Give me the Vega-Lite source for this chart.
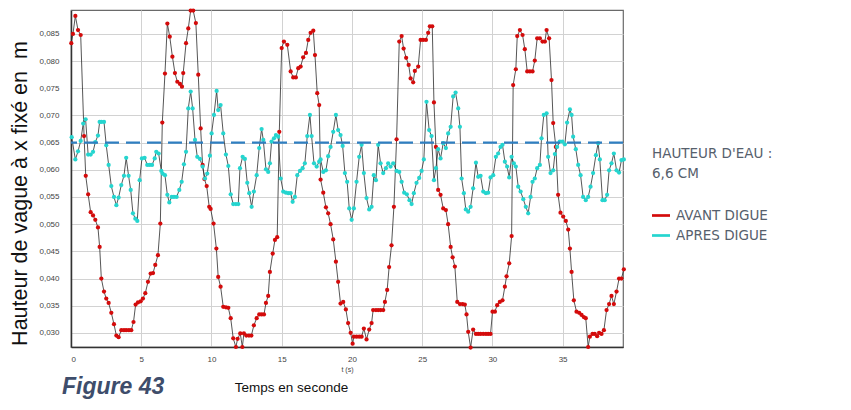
{
"$schema": "https://vega.github.io/schema/vega-lite/v6.json",
"width": 552, "height": 337,
"autosize": {"type": "none"},
"padding": {"left": 71, "top": 10, "right": 228, "bottom": 63},
"background": "white",
"config": {"view": {"stroke": "#6a6a6a", "strokeWidth": 1.2}, "font": "Liberation Sans"},
"datasets": {
"avant": [{"t":0.02,"v":0.0833},{"t":0.14,"v":0.0850},{"t":0.31,"v":0.0883},{"t":0.50,"v":0.0857},{"t":0.69,"v":0.0848},{"t":0.93,"v":0.0662},{"t":1.05,"v":0.0589},{"t":1.22,"v":0.0555},{"t":1.40,"v":0.0522},{"t":1.57,"v":0.0516},{"t":1.73,"v":0.0508},{"t":1.92,"v":0.0494},{"t":2.04,"v":0.0458},{"t":2.16,"v":0.0400},{"t":2.35,"v":0.0376},{"t":2.51,"v":0.0363},{"t":2.68,"v":0.0355},{"t":2.87,"v":0.0337},{"t":3.06,"v":0.0316},{"t":3.23,"v":0.0295},{"t":3.39,"v":0.0292},{"t":3.58,"v":0.0305},{"t":3.77,"v":0.0305},{"t":3.93,"v":0.0305},{"t":4.12,"v":0.0305},{"t":4.29,"v":0.0305},{"t":4.45,"v":0.0320},{"t":4.60,"v":0.0352},{"t":4.77,"v":0.0356},{"t":4.96,"v":0.0358},{"t":5.12,"v":0.0363},{"t":5.29,"v":0.0373},{"t":5.48,"v":0.0394},{"t":5.67,"v":0.0409},{"t":5.84,"v":0.0410},{"t":6.00,"v":0.0425},{"t":6.19,"v":0.0443},{"t":6.36,"v":0.0501},{"t":6.50,"v":0.0687},{"t":6.69,"v":0.0777},{"t":6.86,"v":0.0869},{"t":7.03,"v":0.0845},{"t":7.22,"v":0.0808},{"t":7.40,"v":0.0778},{"t":7.57,"v":0.0762},{"t":7.76,"v":0.0758},{"t":7.90,"v":0.0753},{"t":7.99,"v":0.0778},{"t":8.19,"v":0.0833},{"t":8.35,"v":0.0860},{"t":8.52,"v":0.0893},{"t":8.70,"v":0.0893},{"t":8.89,"v":0.0870},{"t":9.06,"v":0.0775},{"t":9.23,"v":0.0676},{"t":9.37,"v":0.0609},{"t":9.50,"v":0.0583},{"t":9.66,"v":0.0570},{"t":9.84,"v":0.0532},{"t":9.94,"v":0.0528},{"t":10.15,"v":0.0501},{"t":10.35,"v":0.0455},{"t":10.48,"v":0.0403},{"t":10.65,"v":0.0385},{"t":10.84,"v":0.0348},{"t":11.03,"v":0.0347},{"t":11.20,"v":0.0346},{"t":11.37,"v":0.0327},{"t":11.55,"v":0.0290},{"t":11.74,"v":0.0274},{"t":11.86,"v":0.0289},{"t":12.05,"v":0.0299},{"t":12.20,"v":0.0274},{"t":12.31,"v":0.0299},{"t":12.48,"v":0.0295},{"t":12.67,"v":0.0295},{"t":12.84,"v":0.0295},{"t":13.02,"v":0.0314},{"t":13.22,"v":0.0327},{"t":13.40,"v":0.0334},{"t":13.57,"v":0.0334},{"t":13.74,"v":0.0334},{"t":13.88,"v":0.0355},{"t":14.04,"v":0.0368},{"t":14.16,"v":0.0412},{"t":14.36,"v":0.0446},{"t":14.52,"v":0.0471},{"t":14.68,"v":0.0476},{"t":14.83,"v":0.0670},{"t":15.00,"v":0.0824},{"t":15.16,"v":0.0836},{"t":15.40,"v":0.0830},{"t":15.64,"v":0.0781},{"t":15.82,"v":0.0770},{"t":16.01,"v":0.0770},{"t":16.18,"v":0.0787},{"t":16.35,"v":0.0790},{"t":16.53,"v":0.0807},{"t":16.73,"v":0.0815},{"t":16.89,"v":0.0839},{"t":17.06,"v":0.0852},{"t":17.25,"v":0.0856},{"t":17.37,"v":0.0811},{"t":17.53,"v":0.0741},{"t":17.67,"v":0.0719},{"t":17.77,"v":0.0582},{"t":17.96,"v":0.0558},{"t":18.15,"v":0.0531},{"t":18.31,"v":0.0520},{"t":18.48,"v":0.0500},{"t":18.67,"v":0.0472},{"t":18.86,"v":0.0431},{"t":19.02,"v":0.0394},{"t":19.19,"v":0.0354},{"t":19.38,"v":0.0357},{"t":19.57,"v":0.0343},{"t":19.73,"v":0.0318},{"t":19.91,"v":0.0300},{"t":20.05,"v":0.0280},{"t":20.14,"v":0.0293},{"t":20.33,"v":0.0293},{"t":20.52,"v":0.0293},{"t":20.69,"v":0.0293},{"t":20.85,"v":0.0308},{"t":21.04,"v":0.0288},{"t":21.23,"v":0.0306},{"t":21.40,"v":0.0318},{"t":21.51,"v":0.0342},{"t":21.71,"v":0.0342},{"t":21.87,"v":0.0342},{"t":22.04,"v":0.0342},{"t":22.23,"v":0.0342},{"t":22.35,"v":0.0357},{"t":22.51,"v":0.0379},{"t":22.65,"v":0.0421},{"t":22.82,"v":0.0461},{"t":22.99,"v":0.0532},{"t":23.18,"v":0.0656},{"t":23.37,"v":0.0836},{"t":23.54,"v":0.0846},{"t":23.68,"v":0.0823},{"t":23.86,"v":0.0806},{"t":24.04,"v":0.0793},{"t":24.18,"v":0.0768},{"t":24.36,"v":0.0761},{"t":24.48,"v":0.0782},{"t":24.72,"v":0.0790},{"t":24.89,"v":0.0839},{"t":25.07,"v":0.0839},{"t":25.27,"v":0.0839},{"t":25.43,"v":0.0852},{"t":25.55,"v":0.0864},{"t":25.72,"v":0.0864},{"t":25.84,"v":0.0724},{"t":25.98,"v":0.0642},{"t":26.14,"v":0.0563},{"t":26.31,"v":0.0554},{"t":26.50,"v":0.0529},{"t":26.69,"v":0.0526},{"t":26.85,"v":0.0500},{"t":27.03,"v":0.0458},{"t":27.17,"v":0.0439},{"t":27.33,"v":0.0422},{"t":27.50,"v":0.0357},{"t":27.69,"v":0.0353},{"t":27.88,"v":0.0353},{"t":28.04,"v":0.0352},{"t":28.16,"v":0.0334},{"t":28.28,"v":0.0302},{"t":28.45,"v":0.0273},{"t":28.63,"v":0.0306},{"t":28.83,"v":0.0298},{"t":28.99,"v":0.0298},{"t":29.16,"v":0.0298},{"t":29.35,"v":0.0298},{"t":29.54,"v":0.0298},{"t":29.70,"v":0.0298},{"t":29.87,"v":0.0298},{"t":30.01,"v":0.0339},{"t":30.18,"v":0.0339},{"t":30.34,"v":0.0351},{"t":30.53,"v":0.0357},{"t":30.72,"v":0.0360},{"t":30.89,"v":0.0385},{"t":31.01,"v":0.0404},{"t":31.20,"v":0.0428},{"t":31.37,"v":0.0478},{"t":31.48,"v":0.0756},{"t":31.67,"v":0.0785},{"t":31.77,"v":0.0846},{"t":31.96,"v":0.0857},{"t":32.15,"v":0.0848},{"t":32.31,"v":0.0822},{"t":32.48,"v":0.0781},{"t":32.67,"v":0.0781},{"t":32.86,"v":0.0781},{"t":33.02,"v":0.0801},{"t":33.19,"v":0.0842},{"t":33.38,"v":0.0842},{"t":33.57,"v":0.0836},{"t":33.74,"v":0.0836},{"t":33.86,"v":0.0857},{"t":34.04,"v":0.0842},{"t":34.21,"v":0.0765},{"t":34.33,"v":0.0686},{"t":34.52,"v":0.0642},{"t":34.68,"v":0.0554},{"t":34.85,"v":0.0521},{"t":35.04,"v":0.0514},{"t":35.23,"v":0.0506},{"t":35.40,"v":0.0490},{"t":35.52,"v":0.0455},{"t":35.64,"v":0.0412},{"t":35.80,"v":0.0360},{"t":35.99,"v":0.0339},{"t":36.18,"v":0.0337},{"t":36.35,"v":0.0333},{"t":36.51,"v":0.0329},{"t":36.65,"v":0.0327},{"t":36.82,"v":0.0274},{"t":36.94,"v":0.0293},{"t":37.13,"v":0.0298},{"t":37.29,"v":0.0298},{"t":37.46,"v":0.0294},{"t":37.60,"v":0.0300},{"t":37.77,"v":0.0298},{"t":37.94,"v":0.0305},{"t":38.13,"v":0.0342},{"t":38.31,"v":0.0353},{"t":38.48,"v":0.0368},{"t":38.65,"v":0.0353},{"t":38.84,"v":0.0376},{"t":39.02,"v":0.0400},{"t":39.19,"v":0.0400},{"t":39.36,"v":0.0417}],
"apres": [{"t":0.05,"v":0.0660},{"t":0.31,"v":0.0619},{"t":0.50,"v":0.0634},{"t":0.69,"v":0.0653},{"t":0.87,"v":0.0685},{"t":1.04,"v":0.0693},{"t":1.22,"v":0.0628},{"t":1.40,"v":0.0628},{"t":1.57,"v":0.0633},{"t":1.73,"v":0.0651},{"t":1.92,"v":0.0663},{"t":2.04,"v":0.0688},{"t":2.16,"v":0.0688},{"t":2.35,"v":0.0688},{"t":2.51,"v":0.0645},{"t":2.68,"v":0.0609},{"t":2.87,"v":0.0570},{"t":3.06,"v":0.0550},{"t":3.23,"v":0.0535},{"t":3.39,"v":0.0549},{"t":3.58,"v":0.0572},{"t":3.77,"v":0.0589},{"t":3.93,"v":0.0622},{"t":4.10,"v":0.0589},{"t":4.25,"v":0.0563},{"t":4.41,"v":0.0520},{"t":4.58,"v":0.0510},{"t":4.72,"v":0.0506},{"t":4.89,"v":0.0581},{"t":5.05,"v":0.0621},{"t":5.24,"v":0.0622},{"t":5.43,"v":0.0609},{"t":5.60,"v":0.0609},{"t":5.77,"v":0.0609},{"t":5.96,"v":0.0621},{"t":6.07,"v":0.0633},{"t":6.24,"v":0.0630},{"t":6.43,"v":0.0598},{"t":6.52,"v":0.0593},{"t":6.69,"v":0.0590},{"t":6.86,"v":0.0554},{"t":7.00,"v":0.0540},{"t":7.17,"v":0.0550},{"t":7.33,"v":0.0550},{"t":7.52,"v":0.0550},{"t":7.71,"v":0.0563},{"t":7.88,"v":0.0578},{"t":8.04,"v":0.0610},{"t":8.19,"v":0.0633},{"t":8.35,"v":0.0713},{"t":8.52,"v":0.0744},{"t":8.66,"v":0.0713},{"t":8.83,"v":0.0655},{"t":8.99,"v":0.0624},{"t":9.18,"v":0.0620},{"t":9.37,"v":0.0606},{"t":9.54,"v":0.0584},{"t":9.70,"v":0.0593},{"t":9.89,"v":0.0626},{"t":10.01,"v":0.0667},{"t":10.18,"v":0.0701},{"t":10.37,"v":0.0745},{"t":10.48,"v":0.0710},{"t":10.65,"v":0.0719},{"t":10.84,"v":0.0667},{"t":11.03,"v":0.0628},{"t":11.20,"v":0.0607},{"t":11.37,"v":0.0555},{"t":11.55,"v":0.0537},{"t":11.74,"v":0.0537},{"t":11.91,"v":0.0537},{"t":12.03,"v":0.0603},{"t":12.22,"v":0.0624},{"t":12.38,"v":0.0620},{"t":12.55,"v":0.0576},{"t":12.69,"v":0.0557},{"t":12.86,"v":0.0532},{"t":13.02,"v":0.0560},{"t":13.22,"v":0.0590},{"t":13.40,"v":0.0640},{"t":13.57,"v":0.0675},{"t":13.69,"v":0.0655},{"t":13.88,"v":0.0601},{"t":14.04,"v":0.0596},{"t":14.16,"v":0.0612},{"t":14.28,"v":0.0652},{"t":14.45,"v":0.0658},{"t":14.59,"v":0.0664},{"t":14.75,"v":0.0661},{"t":14.93,"v":0.0584},{"t":15.11,"v":0.0560},{"t":15.30,"v":0.0558},{"t":15.47,"v":0.0557},{"t":15.64,"v":0.0557},{"t":15.78,"v":0.0541},{"t":15.94,"v":0.0550},{"t":16.11,"v":0.0590},{"t":16.30,"v":0.0598},{"t":16.49,"v":0.0603},{"t":16.65,"v":0.0612},{"t":16.82,"v":0.0662},{"t":17.01,"v":0.0701},{"t":17.13,"v":0.0662},{"t":17.30,"v":0.0612},{"t":17.49,"v":0.0606},{"t":17.67,"v":0.0615},{"t":17.77,"v":0.0619},{"t":17.96,"v":0.0596},{"t":18.15,"v":0.0599},{"t":18.31,"v":0.0625},{"t":18.48,"v":0.0642},{"t":18.67,"v":0.0670},{"t":18.86,"v":0.0701},{"t":19.02,"v":0.0673},{"t":19.19,"v":0.0664},{"t":19.34,"v":0.0644},{"t":19.50,"v":0.0594},{"t":19.66,"v":0.0578},{"t":19.81,"v":0.0529},{"t":19.98,"v":0.0508},{"t":20.14,"v":0.0529},{"t":20.33,"v":0.0578},{"t":20.52,"v":0.0624},{"t":20.69,"v":0.0646},{"t":20.85,"v":0.0594},{"t":21.04,"v":0.0548},{"t":21.23,"v":0.0527},{"t":21.40,"v":0.0532},{"t":21.56,"v":0.0590},{"t":21.71,"v":0.0581},{"t":21.87,"v":0.0646},{"t":22.04,"v":0.0612},{"t":22.23,"v":0.0594},{"t":22.42,"v":0.0603},{"t":22.58,"v":0.0612},{"t":22.75,"v":0.0606},{"t":22.94,"v":0.0612},{"t":23.18,"v":0.0598},{"t":23.37,"v":0.0596},{"t":23.54,"v":0.0578},{"t":23.72,"v":0.0558},{"t":23.91,"v":0.0555},{"t":24.10,"v":0.0544},{"t":24.25,"v":0.0537},{"t":24.41,"v":0.0557},{"t":24.60,"v":0.0576},{"t":24.79,"v":0.0585},{"t":24.96,"v":0.0598},{"t":25.12,"v":0.0619},{"t":25.31,"v":0.0725},{"t":25.50,"v":0.0673},{"t":25.67,"v":0.0662},{"t":25.84,"v":0.0581},{"t":25.98,"v":0.0603},{"t":26.14,"v":0.0638},{"t":26.31,"v":0.0621},{"t":26.50,"v":0.0649},{"t":26.69,"v":0.0640},{"t":26.85,"v":0.0667},{"t":27.03,"v":0.0679},{"t":27.21,"v":0.0735},{"t":27.38,"v":0.0742},{"t":27.57,"v":0.0713},{"t":27.69,"v":0.0679},{"t":27.81,"v":0.0584},{"t":27.97,"v":0.0557},{"t":28.11,"v":0.0527},{"t":28.28,"v":0.0523},{"t":28.45,"v":0.0532},{"t":28.63,"v":0.0566},{"t":28.83,"v":0.0613},{"t":28.99,"v":0.0587},{"t":29.16,"v":0.0589},{"t":29.35,"v":0.0560},{"t":29.54,"v":0.0557},{"t":29.70,"v":0.0558},{"t":29.87,"v":0.0586},{"t":30.06,"v":0.0590},{"t":30.25,"v":0.0624},{"t":30.41,"v":0.0630},{"t":30.58,"v":0.0642},{"t":30.72,"v":0.0646},{"t":30.89,"v":0.0615},{"t":31.05,"v":0.0606},{"t":31.20,"v":0.0586},{"t":31.37,"v":0.0624},{"t":31.53,"v":0.0612},{"t":31.67,"v":0.0606},{"t":31.84,"v":0.0569},{"t":32.01,"v":0.0560},{"t":32.20,"v":0.0546},{"t":32.38,"v":0.0532},{"t":32.55,"v":0.0520},{"t":32.72,"v":0.0550},{"t":32.86,"v":0.0578},{"t":33.02,"v":0.0584},{"t":33.19,"v":0.0603},{"t":33.38,"v":0.0609},{"t":33.50,"v":0.0658},{"t":33.66,"v":0.0701},{"t":33.86,"v":0.0704},{"t":33.97,"v":0.0624},{"t":34.14,"v":0.0594},{"t":34.33,"v":0.0599},{"t":34.45,"v":0.0629},{"t":34.61,"v":0.0642},{"t":34.80,"v":0.0652},{"t":34.99,"v":0.0652},{"t":35.16,"v":0.0647},{"t":35.32,"v":0.0687},{"t":35.52,"v":0.0711},{"t":35.64,"v":0.0701},{"t":35.75,"v":0.0661},{"t":35.94,"v":0.0638},{"t":36.11,"v":0.0609},{"t":36.28,"v":0.0590},{"t":36.46,"v":0.0550},{"t":36.65,"v":0.0544},{"t":36.82,"v":0.0550},{"t":36.99,"v":0.0569},{"t":37.17,"v":0.0594},{"t":37.37,"v":0.0627},{"t":37.53,"v":0.0649},{"t":37.65,"v":0.0619},{"t":37.84,"v":0.0544},{"t":38.00,"v":0.0544},{"t":38.17,"v":0.0554},{"t":38.31,"v":0.0599},{"t":38.48,"v":0.0612},{"t":38.65,"v":0.0630},{"t":38.84,"v":0.0599},{"t":39.02,"v":0.0595},{"t":39.19,"v":0.0618},{"t":39.36,"v":0.0619}]
},
"title": {"text": "Figure 43", "orient": "bottom", "anchor": "start", "frame": "group", "fontSize": 23, "fontStyle": "italic", "fontWeight": "bold", "color": "#3e4d6b", "font": "Liberation Sans", "dx": -9, "offset": -18},
"layer": [
{"data": {"name": "avant"},
 "mark": {"type": "line", "color": "#2b2b2b", "strokeWidth": 0.8},
 "encoding": {
  "x": {"field": "t", "type": "quantitative", "scale": {"domain": [0, 39.3], "nice": false, "zero": false},
        "axis": {"orient": "bottom", "values": [0, 5, 10, 15, 20, 25, 30, 35], "title": "t (s)", "titleFontSize": 7, "titleFontWeight": "normal", "titleColor": "#444", "titlePadding": 2, "labelFontSize": 8, "labelColor": "#444", "ticks": false, "tickSize": 0, "labelPadding": 8, "grid": true, "gridColor": "#d2d2d2", "domainColor": "#333", "domainWidth": 1.5}},
  "y": {"field": "v", "type": "quantitative", "scale": {"domain": [0.0274, 0.0894], "nice": false, "zero": false},
        "axis": {"orient": "left", "values": [0.03, 0.035, 0.04, 0.045, 0.05, 0.055, 0.06, 0.065, 0.07, 0.075, 0.08, 0.085], "labelExpr": "replace(format(datum.value, '.3f'), '.', ',')", "labelOverlap": false, "labelFontSize": 8, "labelColor": "#444", "ticks": false, "tickSize": 0, "labelPadding": 12, "grid": true, "gridColor": "#d2d2d2", "domainColor": "#333", "domainWidth": 1.5, "title": "Hauteur de vague à x fixé en \u00a0m", "titleFontSize": 21.5, "titleFontWeight": "normal", "titleColor": "#111", "titleX": -40, "titleY": 183}}
 }},
{"data": {"name": "apres"},
 "mark": {"type": "line", "color": "#2b2b2b", "strokeWidth": 0.8},
 "encoding": {
  "x": {"field": "t", "type": "quantitative", "axis": null},
  "y": {"field": "v", "type": "quantitative", "axis": null}
 }},
{"data": {"name": "avant"},
 "mark": {"type": "point", "filled": true, "size": 18, "opacity": 1, "clip": false},
 "encoding": {
  "x": {"field": "t", "type": "quantitative",
        "axis": {"orient": "bottom", "labels": false, "ticks": false, "domain": false, "grid": false, "title": "Temps en seconde", "titleFontSize": 13.5, "titleFontWeight": "normal", "titleColor": "#111", "titleX": 220, "titleY": 33}},
  "y": {"field": "v", "type": "quantitative", "axis": null},
  "color": {"datum": "Avant digue", "type": "nominal",
     "scale": {"domain": ["Avant digue", "Apres digue"], "range": ["#d40b0b", "#25d5cf"]},
     "legend": {"orient": "none", "legendX": 581, "legendY": 137, "title": ["HAUTEUR D'EAU :", "6,6 CM"], "titleFontSize": 13.5, "titleFontWeight": "normal", "titleColor": "#56606c", "titleFont": "DejaVu Sans", "titleLineHeight": 20, "titlePadding": 26, "labelExpr": "upper(datum.label)", "labelFont": "DejaVu Sans", "labelFontSize": 13.5, "labelColor": "#56606c", "symbolType": "M-1,-0.15H1V0.15H-1Z", "symbolSize": 324, "symbolStrokeWidth": 0, "rowPadding": 4, "labelOffset": 6, "padding": 0}}
 }},
{"data": {"name": "apres"},
 "mark": {"type": "point", "filled": true, "size": 18, "opacity": 1, "clip": false},
 "encoding": {
  "x": {"field": "t", "type": "quantitative", "axis": null},
  "y": {"field": "v", "type": "quantitative", "axis": null},
  "color": {"datum": "Apres digue", "type": "nominal"}
 }},
{"data": {"values": [{"h": 0.065}]},
 "mark": {"type": "rule", "color": "#2f7fc1", "strokeWidth": 2.4, "strokeDash": [14, 7]},
 "encoding": {"y": {"field": "h", "type": "quantitative", "axis": null}}}
],
"resolve": {"axis": {"x": "independent", "y": "independent"}}
}
